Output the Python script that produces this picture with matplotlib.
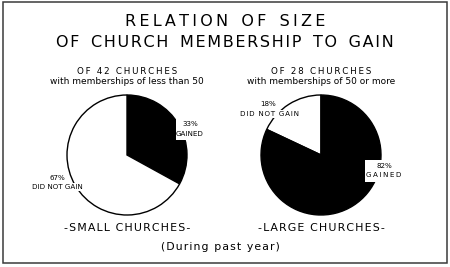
import matplotlib.pyplot as plt
from matplotlib.patches import Rectangle

# data
groups = ["SMALL CHURCHES", "LARGE CHURCHES"]
counts = ["OF 42 CHURCHES", "OF 28 CHURCHES"]
notes = ["with memberships of less than 50", "with memberships of 50 or more"]
gained = [33, 82]
not_gained = [67, 18]

W, H = 450, 267


def py(y):
    # pixel row (from top) -> data y
    return H - y


def spaced(s, n=1, gap=0):
    # crude letter spacing with hair spaces
    hs = "\u200a" * n
    words = [hs.join(w) for w in s.split(" ")]
    return (hs + " " + "\u200a" * gap + hs).join(words)


fig = plt.figure(figsize=(4.5, 2.67), dpi=100)
ax = fig.add_axes([0, 0, 1, 1])
ax.set_xlim(0, W)
ax.set_ylim(0, H)
ax.axis("off")

ax.add_patch(Rectangle((2.5, py(263)), 444.5, 261.5, fill=False, lw=1.1, ec="#3a3a3a"))

ax.text(225, py(21), spaced("RELATION OF SIZE", 2, 1), ha="center", va="center",
        fontsize=11.5)
ax.text(225, py(42.5), spaced("OF CHURCH MEMBERSHIP TO GAIN", 1, 2), ha="center",
        va="center", fontsize=11.5)

centers = [127, 321]
for i in range(2):
    cx = centers[i]
    cy = py(155)
    if i == 0:
        vals = [gained[i], not_gained[i]]
        cols = ["black", "white"]
        ccw = False
    else:
        vals = [not_gained[i], gained[i]]
        cols = ["white", "black"]
        ccw = True
    ax.pie(vals, colors=cols, startangle=90, counterclock=ccw,
           center=(cx, cy), radius=60, frame=True,
           wedgeprops=dict(ec="black", lw=1.0))
    ax.text(cx, py(71), spaced(counts[i], 2), ha="center", va="center", fontsize=6.3)
    ax.text(cx, py(82), notes[i], ha="center", va="center", fontsize=6.5)
    ax.text(cx, py(228), spaced("-" + groups[i] + "-", 1), ha="center", va="center",
            fontsize=7.9)

lab = dict(ha="center", va="center", fontsize=5.1)
wbox = dict(fc="white", ec="none", pad=0.8)

# small churches labels
ax.add_patch(Rectangle((175.5, py(140)), 26, 25, fc="white", ec="none", zorder=3))
ax.text(190, py(123.5), "%d%%" % gained[0], zorder=4, **lab)
ax.text(189.5, py(133.5), "GAINED", zorder=4, **lab)
ax.text(57, py(177.5), "%d%%" % not_gained[0], zorder=4, **lab)
ax.text(57, py(187), "DID NOT GAIN", zorder=4, bbox=wbox, **lab)

# large churches labels
ax.text(268, py(104.5), "%d%%" % not_gained[1], zorder=4, **lab)
ax.text(270, py(114), spaced("DID NOT GAIN", 1), zorder=4, bbox=wbox, **lab)
ax.add_patch(Rectangle((365, py(182)), 40, 22, fc="white", ec="none", zorder=3))
ax.text(384, py(165.5), "%d%%" % gained[1], zorder=4, **lab)
ax.text(384, py(175), spaced("GAINED", 2), zorder=4, **lab)

ax.text(220, py(247), spaced("(During past year)", 1), ha="center", va="center",
        fontsize=7.8)

ax.set_xlim(0, W)
ax.set_ylim(0, H)
ax.set_aspect("auto")
fig.savefig("out.png", dpi=100)
